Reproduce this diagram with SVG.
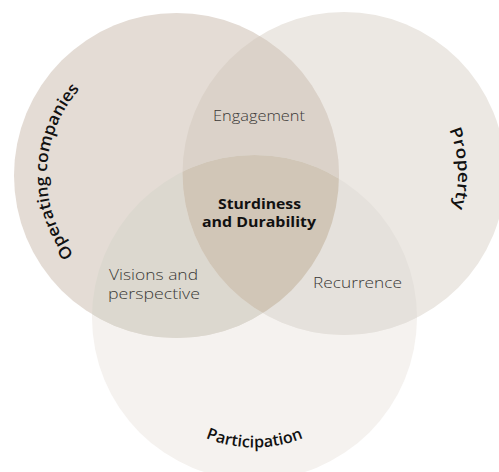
<svg xmlns="http://www.w3.org/2000/svg" xmlns:xlink="http://www.w3.org/1999/xlink" width="499" height="472" viewBox="0 0 499 472">
<style>
.lbl{font-family:"Open Sans","Liberation Sans",sans-serif;font-weight:600;font-size:16.5px;fill:#111111}
.reg{font-family:"Open Sans","Liberation Sans",sans-serif;font-weight:300;font-size:15px;fill:#3a3836;text-anchor:middle}
.core{font-family:"Open Sans","Liberation Sans",sans-serif;font-weight:700;font-size:15px;fill:#111111;text-anchor:middle}
</style>
<defs>
<circle id="cL" cx="176.5" cy="175.5" r="162.5"/>
<circle id="cR" cx="344" cy="173.5" r="161.5"/>
<circle id="cB" cx="254.5" cy="317.5" r="162.5"/>
<clipPath id="clipL"><use xlink:href="#cL"/></clipPath>
<clipPath id="clipR"><use xlink:href="#cR"/></clipPath>
<clipPath id="clipB"><use xlink:href="#cB"/></clipPath>
<path id="arcL" d="M153.93,303.41 A130,130 0 0 1 162.91,46.21"/>
<path id="arcR" d="M401,74.77 A114,114 0 0 1 409.39,266.88"/>
<path id="arcB" d="M141.92,382.5 A130,130 0 0 0 367.08,382.5"/>
</defs>
<g id="node-participation">
<use xlink:href="#cB" fill="#f5f2ef"/>
<text class="lbl" text-anchor="middle" style="font-size:16px"><textPath xlink:href="#arcB" startOffset="50%" textLength="100" lengthAdjust="spacingAndGlyphs">Participation</textPath></text>
</g>
<g id="node-property">
<use xlink:href="#cR" fill="#ece8e3"/>
<text class="lbl" text-anchor="middle"><textPath xlink:href="#arcR" startOffset="50%" textLength="80" lengthAdjust="spacingAndGlyphs">Property</textPath></text>
</g>
<g id="node-operating-companies">
<use xlink:href="#cL" fill="#e4dcd5"/>
<text class="lbl" text-anchor="middle"><textPath xlink:href="#arcL" startOffset="50%" textLength="180" lengthAdjust="spacingAndGlyphs">Operating companies</textPath></text>
</g>
<g id="region-engagement">
<use xlink:href="#cR" fill="#dbd2c9" clip-path="url(#clipL)"/>
<text class="reg" x="259" y="121" textLength="92" lengthAdjust="spacingAndGlyphs">Engagement</text>
</g>
<g id="region-visions">
<use xlink:href="#cB" fill="#dcd8cf" clip-path="url(#clipL)"/>
<text class="reg" x="153.5" y="280" textLength="89" lengthAdjust="spacingAndGlyphs">Visions and</text>
<text class="reg" x="154" y="298.5" textLength="92" lengthAdjust="spacingAndGlyphs">perspective</text>
</g>
<g id="region-recurrence">
<use xlink:href="#cB" fill="#e5e1dc" clip-path="url(#clipR)"/>
<text class="reg" x="357.5" y="288" textLength="89" lengthAdjust="spacingAndGlyphs">Recurrence</text>
</g>
<g id="region-core">
<g clip-path="url(#clipL)"><use xlink:href="#cB" fill="#d1c6b7" clip-path="url(#clipR)"/></g>
<text class="core" x="259.5" y="208.5" textLength="83" lengthAdjust="spacingAndGlyphs">Sturdiness</text>
<text class="core" x="259" y="227" textLength="114" lengthAdjust="spacingAndGlyphs">and Durability</text>
</g>
</svg>
